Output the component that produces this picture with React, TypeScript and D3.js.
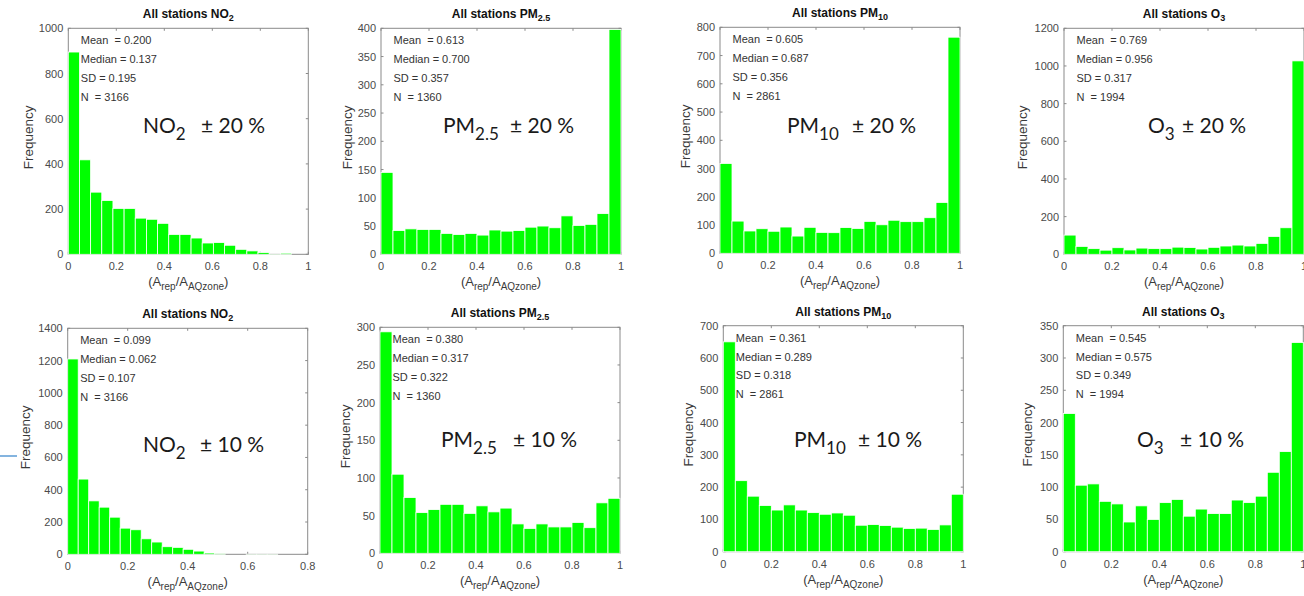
import React from "react";
import * as d3 from "d3";

// ---- data (bin counts, 20 bins each) ----
const no2_20 = [895, 418, 275, 238, 203, 203, 160, 155, 137, 88, 88, 72, 50, 52, 40, 22, 15, 8, 1, 5];
const pm25_20 = [145, 42, 45, 44, 44, 37, 35, 37, 34, 43, 41, 42, 48, 50, 47, 68, 51, 53, 72, 398];
const pm10_20 = [318, 114, 79, 87, 78, 93, 61, 92, 74, 73, 91, 88, 113, 101, 117, 112, 112, 126, 180, 765];
const o3_20 = [102, 42, 30, 22, 35, 23, 33, 30, 30, 38, 36, 28, 37, 44, 49, 44, 58, 95, 141, 1027];
const no2_10 = [1210, 466, 331, 292, 230, 162, 152, 96, 76, 47, 43, 31, 20, 8, 3, 0, 0, 1, 1, 1];
const pm25_10 = [294, 105, 74, 54, 58, 65, 65, 53, 63, 55, 60, 39, 33, 39, 35, 35, 41, 34, 67, 73];
const pm10_10 = [650, 220, 172, 143, 129, 145, 129, 121, 116, 120, 113, 82, 84, 81, 76, 72, 73, 69, 83, 178];
const o3_10 = [214, 103, 105, 78, 74, 46, 71, 50, 76, 81, 55, 66, 59, 59, 80, 76, 86, 123, 155, 324];

const binMaxes = [0.93, 1, 1, 1, 0.7, 1, 1, 1];
const xMaxes = [1, 1, 1, 1, 0.8, 1, 1, 1];
const yMaxes = [1000, 400, 800, 1200, 1400, 300, 700, 350];
const ySteps = [200, 50, 100, 200, 200, 50, 100, 50];

const speciesMain = ["NO", "PM", "PM", "O", "NO", "PM", "PM", "O"];
const speciesSub = ["2", "2.5", "10", "3", "2", "2.5", "10", "3"];
const tolerance = ["20", "20", "20", "20", "10", "10", "10", "10"];

const statMean = ["0.200", "0.613", "0.605", "0.769", "0.099", "0.380", "0.361", "0.545"];
const statMedian = ["0.137", "0.700", "0.687", "0.956", "0.062", "0.317", "0.289", "0.575"];
const statSD = ["0.195", "0.357", "0.356", "0.317", "0.107", "0.322", "0.318", "0.349"];
const statN = ["3166", "1360", "2861", "1994", "3166", "1360", "2861", "1994"];

const datasets = [no2_20, pm25_20, pm10_20, o3_20, no2_10, pm25_10, pm10_10, o3_10];

// ---- layout ----
const layout = [
  { left: 68.3, top: 28.3, ylabX: 28, bigX: 143, pmX: 201, bigY: 133 },
  { left: 381, top: 28.3, ylabX: 347, bigX: 443, pmX: 510, bigY: 133 },
  { left: 720, top: 27.3, ylabX: 685, bigX: 787, pmX: 852, bigY: 133 },
  { left: 1064, top: 28.3, ylabX: 1022, bigX: 1148, pmX: 1182, bigY: 133 },
  { left: 67.7, top: 328.3, ylabX: 25, bigX: 143, pmX: 200, bigY: 452 },
  { left: 380, top: 327.3, ylabX: 345, bigX: 441, pmX: 513, bigY: 447 },
  { left: 723.3, top: 325.7, ylabX: 688, bigX: 794, pmX: 858, bigY: 447 },
  { left: 1063.3, top: 325.7, ylabX: 1027, bigX: 1137, pmX: 1180, bigY: 447 },
];

const W = 240;
const H = 226;
const AX = "Liberation Sans, Arial, sans-serif";
const BIG = "Lato, 'Open Sans', sans-serif";
const axisColor = "#8a8a8a";
const tickText = "#4a4a4a";

function fmt(v: number) {
  return String(Math.round(v * 10) / 10);
}

function Panel({ i }: { i: number }) {
  const L = layout[i];
  const data = datasets[i];
  const x = d3.scaleLinear().domain([0, xMaxes[i]]).range([L.left, L.left + W]);
  const y = d3.scaleLinear().domain([0, yMaxes[i]]).range([L.top + H, L.top]);
  const bw = binMaxes[i] / data.length;
  const xt = d3.range(0, xMaxes[i] + 1e-9, 0.2);
  const yt = d3.range(0, yMaxes[i] + 1e-9, ySteps[i]);
  const B = L.top + H;
  const R = L.left + W;
  const stats = [
    `Mean  = ${statMean[i]}`,
    `Median = ${statMedian[i]}`,
    `SD = ${statSD[i]}`,
    `N  = ${statN[i]}`,
  ];
  return (
    <g>
      {/* title */}
      <text x={L.left + W / 2} y={L.top - 10} textAnchor="middle" fontFamily={AX} fontWeight="bold" fontSize={12} fill="#111">
        All stations {speciesMain[i]}
        <tspan fontSize={9} dy={3}>{speciesSub[i]}</tspan>
      </text>
      {/* box */}
      <rect x={L.left} y={L.top} width={W} height={H} fill="none" stroke={axisColor} strokeWidth={1} />
      {xt.map((v) => (
        <g key={"x" + v}>
          <line x1={x(v)} x2={x(v)} y1={B} y2={B - 2.5} stroke={axisColor} />
          <line x1={x(v)} x2={x(v)} y1={L.top} y2={L.top + 2.5} stroke={axisColor} />
          <text x={x(v)} y={B + 16} textAnchor="middle" fontFamily={AX} fontSize={11} fill={tickText}>
            {fmt(v)}
          </text>
        </g>
      ))}
      {yt.map((v) => (
        <g key={"y" + v}>
          <line x1={L.left} x2={L.left + 2.5} y1={y(v)} y2={y(v)} stroke={axisColor} />
          <line x1={R} x2={R - 2.5} y1={y(v)} y2={y(v)} stroke={axisColor} />
          <text x={L.left - 5} y={y(v) + 4} textAnchor="end" fontFamily={AX} fontSize={11} fill={tickText}>
            {v}
          </text>
        </g>
      ))}
      {/* bars */}
      {data.map((c, k) => (
        <rect
          key={k}
          x={x(k * bw)}
          y={y(c)}
          width={x((k + 1) * bw) - x(k * bw)}
          height={B - y(c)}
          fill="#00ff00"
          stroke="#ffffff"
          strokeWidth={0.8}
        />
      ))}
      {/* stats */}
      {stats.map((s, k) => (
        <text key={k} x={L.left + 12.5} y={L.top + 16 + k * 18.8} fontFamily={AX} fontSize={11} fill="#333" style={{ whiteSpace: "pre" }}>
          {s}
        </text>
      ))}
      {/* big label */}
      <text x={L.bigX} y={L.bigY} fontFamily={BIG} fontSize={21} fill="#1a1a1a">
        {speciesMain[i]}
        <tspan fontSize={17} dy={7}>{speciesSub[i]}</tspan>
      </text>
      <text x={L.pmX} y={L.bigY} fontFamily={BIG} fontSize={21} fill="#1a1a1a" style={{ whiteSpace: "pre" }}>
        {`± ${tolerance[i]} %`}
      </text>
      {/* axis labels */}
      <text
        transform={`translate(${L.ylabX + 4.5},${L.top + H / 2 - 4}) rotate(-90)`}
        textAnchor="middle"
        fontFamily={AX}
        fontSize={13.5}
        fill="#3a3a3a"
      >
        Frequency
      </text>
      <text x={L.left + W / 2} y={B + 32} textAnchor="middle" fontFamily={AX} fontSize={13} fill="#3a3a3a">
        (A<tspan fontSize={10} dy={4}>rep</tspan>
        <tspan dy={-4}>/A</tspan>
        <tspan fontSize={10} dy={4}>AQzone</tspan>
        <tspan dy={-4}>)</tspan>
      </text>
    </g>
  );
}

export default function App() {
  return (
    <svg width={1304} height={596} style={{ position: "absolute", left: 0, top: 0, background: "#fff" }}>
      <rect x={0} y={0} width={1304} height={596} fill="#fff" />
      {datasets.map((_, i) => (
        <Panel key={i} i={i} />
      ))}
      <line x1={0} x2={17} y1={456} y2={456} stroke="#5b9bd5" strokeWidth={1.5} />
    </svg>
  );
}
